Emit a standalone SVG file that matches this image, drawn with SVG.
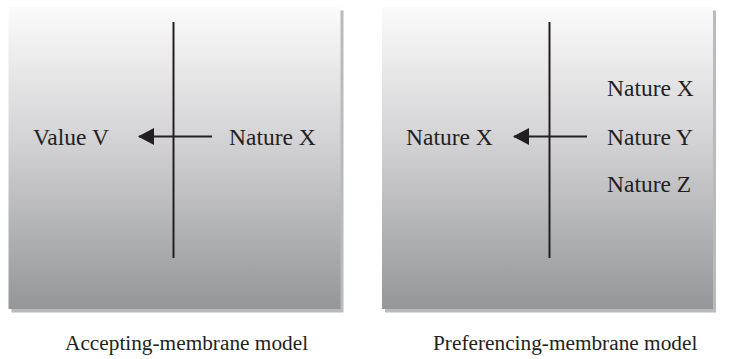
<svg xmlns="http://www.w3.org/2000/svg" width="732" height="359" viewBox="0 0 732 359">
<style>
.panel{fill:url(#g)}
.shadow{fill:#b9babe}
.membrane{stroke:#231f20;stroke-width:2;fill:none}
.flow{stroke:#231f20;stroke-width:2;fill:none}
.lbl{font-family:"Liberation Serif","Times New Roman",serif;font-size:23.5px;fill:#231f20}
.cap{font-family:"Liberation Serif","Times New Roman",serif;font-size:21.3px;fill:#231f20}
</style>
<defs>
<linearGradient id="g" x1="0" y1="0" x2="0" y2="1">
<stop offset="0" stop-color="#fbfbfb"/>
<stop offset="0.45" stop-color="#d2d2d4"/>
<stop offset="1" stop-color="#95969a"/>
</linearGradient>
<marker id="arr" viewBox="0 0 16 17" refX="15" refY="8.5" markerWidth="16" markerHeight="17" markerUnits="userSpaceOnUse" orient="auto">
<path d="M16,8.5 L0,0 L0,17 Z" fill="#231f20"/>
</marker>
</defs>
<g id="panel-left">
<rect class="shadow" x="11.5" y="10.5" width="332" height="302"/>
<rect class="panel" x="8.5" y="7" width="332" height="302"/>
<line class="membrane" x1="173.5" y1="22" x2="173.5" y2="258"/>
<text class="lbl" x="33" y="145">Value V</text>
<text class="lbl" x="229" y="145">Nature X</text>
</g>
<g id="panel-right">
<rect class="shadow" x="385" y="10.5" width="331" height="302"/>
<rect class="panel" x="382" y="7" width="331" height="302"/>
<line class="membrane" x1="549.5" y1="22" x2="549.5" y2="258"/>
<text class="lbl" x="406" y="145">Nature X</text>
<text class="lbl" x="607" y="96">Nature X</text>
<text class="lbl" x="607" y="145">Nature Y</text>
<text class="lbl" x="607" y="192">Nature Z</text>
</g>
<g id="connectors">
<line class="flow" x1="212" y1="136.5" x2="139" y2="136.5" marker-end="url(#arr)"/>
<line class="flow" x1="587" y1="136.5" x2="514" y2="136.5" marker-end="url(#arr)"/>
</g>
<g id="captions">
<text class="cap" x="65" y="350">Accepting-membrane model</text>
<text class="cap" x="433" y="350">Preferencing-membrane model</text>
</g>
</svg>
